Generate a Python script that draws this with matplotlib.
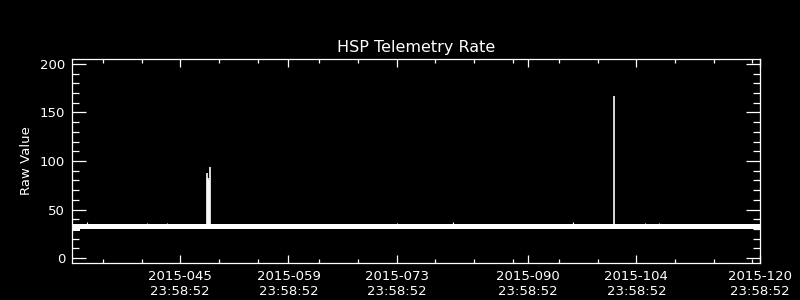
import matplotlib
matplotlib.use("Agg")
import numpy as np
import matplotlib.pyplot as plt

# time axis in fractional day-of-year 2015 (offset 23:58:52 of the previous day)
x_start = 31.999
x_end = 120.999
major_doy = [45.999, 59.999, 73.999, 90.999, 104.999, 120.999]
minor_doy = [35.999, 40.999, 50.999, 55.999,
             63.999, 68.999, 78.999, 83.999, 88.999,
             94.999, 99.999, 109.999, 114.999, 119.999]

# envelope of the dense telemetry band (min / max of raw value)
band_t = [31.999, 33.0, 33.0, 120.999]
band_lo = [27.5, 27.5, 29.5, 29.5]
band_hi = [35.5, 35.5, 35.5, 35.5]

# spikes above the band
spike_t = [49.50, 49.62, 49.74, 49.86, 102.15]
spike_v = [88, 82, 80, 94, 167]

# small bumps just over the band
bump_t = [33.94, 41.70, 44.29, 74.04, 81.29, 96.81, 106.12, 107.93]
bump_v = [36.8, 36.5, 36.5, 36.5, 36.8, 37.2, 36.6, 36.6]

plt.rcParams['font.family'] = ['DejaVu Sans']

fig = plt.figure(figsize=(8, 3), dpi=100, facecolor='black')
ax = fig.add_axes([0.09, 0.1233, 0.86, 0.68])
ax.set_facecolor('black')

ax.fill_between(band_t, band_lo, band_hi, color='white', linewidth=0)
ax.vlines(spike_t, 35.5, spike_v, color='white', linewidth=1.2)
ax.vlines(bump_t, 35.0, bump_v, color='white', linewidth=0.8)

ax.set_xlim(x_start, x_end)
ax.set_ylim(-5, 205)

ax.set_xticks(major_doy)
ax.set_xticks(minor_doy, minor=True)
ax.set_xticklabels(["2015-%03d\n23:58:52" % int(d) for d in major_doy])
ax.set_yticks([0, 50, 100, 150, 200])
ax.set_yticks(np.arange(0, 201, 10), minor=True)

for s in ax.spines.values():
    s.set_color('white')
    s.set_linewidth(0.9)

ax.tick_params(axis='x', which='major', direction='in', length=6, width=0.9,
               colors='white', top=True, bottom=True, labelsize=9.5, pad=5)
ax.tick_params(axis='x', which='minor', direction='in', length=3, width=0.9,
               colors='white', top=True, bottom=True)
ax.tick_params(axis='y', which='major', direction='in', length=10, width=0.9,
               colors='white', left=True, right=True, labelsize=9.5, pad=5)
ax.tick_params(axis='y', which='minor', direction='in', length=5, width=0.9,
               colors='white', left=True, right=True)

ax.set_ylabel("Raw Value", color='white', fontsize=9.5, labelpad=5)
ax.set_title("HSP Telemetry Rate", color='white', fontsize=11.5, pad=5)

fig.savefig("out.png", dpi=100, facecolor='black')
